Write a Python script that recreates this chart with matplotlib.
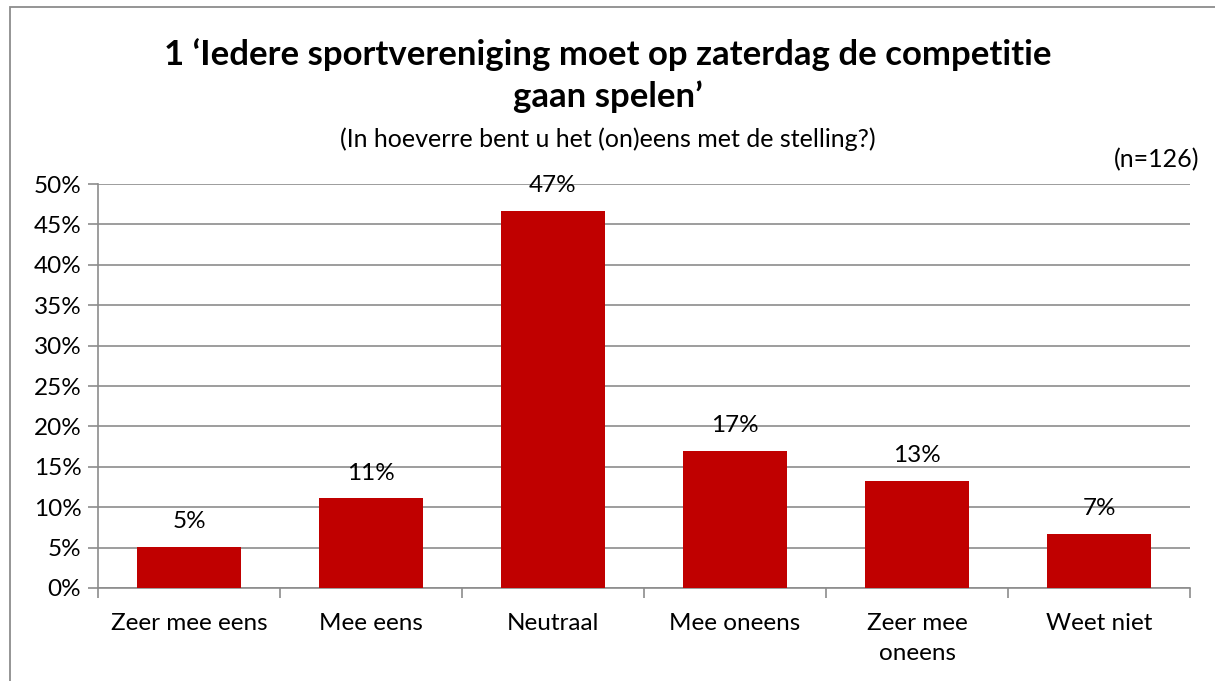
import numpy as np
import matplotlib
matplotlib.use("Agg")
import matplotlib.pyplot as plt
from matplotlib.patches import Rectangle
from matplotlib.ticker import MultipleLocator, FuncFormatter

categories = ["Zeer mee eens", "Mee eens", "Neutraal", "Mee oneens", "Zeer mee\noneens", "Weet niet"]
values = [5.1, 11.1, 46.7, 17.0, 13.3, 6.7]
labels = ["5%", "11%", "47%", "17%", "13%", "7%"]

plt.rcParams['font.family'] = ['Lato', 'DejaVu Sans']

W, H = 1215, 681
fig = plt.figure(figsize=(W / 100, H / 100), dpi=100)

# outer chart border (only left and top visible in the crop)
fig.add_artist(Rectangle((10 / W, -0.1), 1.2, 1.1 - 7 / H, transform=fig.transFigure,
                         fill=False, edgecolor='#8c8c8c', linewidth=1.3))

ax = fig.add_axes([98 / W, (H - 588) / H, (1190 - 98) / W, (588 - 184) / H])
x = np.arange(len(categories))
ax.bar(x, values, width=0.57, color='#C00000', zorder=3)

ax.set_xlim(-0.5, len(categories) - 0.5)
ax.set_ylim(0, 50)
ax.yaxis.set_major_locator(MultipleLocator(5))
ax.yaxis.set_major_formatter(FuncFormatter(lambda v, p: f"{v:.0f}%"))
ax.grid(axis='y', color='#8c8c8c', linewidth=1.2, zorder=0)

for s in ['top', 'right']:
    ax.spines[s].set_visible(False)
for s in ['left', 'bottom']:
    ax.spines[s].set_color('#8c8c8c')
    ax.spines[s].set_linewidth(1.2)

ax.set_xticks(np.arange(len(categories) + 1) - 0.5, minor=False)
ax.set_xticklabels([])
ax.set_xticks(x, minor=True)
ax.set_xticklabels(categories, minor=True, fontsize=17.5, linespacing=1.55)
ax.tick_params(axis='x', which='major', length=7, color='#8c8c8c', width=1.2)
ax.tick_params(axis='x', which='minor', length=0, pad=18)
ax.tick_params(axis='y', length=7, color='#8c8c8c', width=1.2, labelsize=17.5, pad=5)

for xi, v, lab in zip(x, values, labels):
    ax.annotate(lab, (xi, v), xytext=(0, 18), textcoords='offset points',
                ha='center', va='center', fontsize=17.5)

fig.text(0.5, 1 - 55 / H, "1 \u2018Iedere sportvereniging moet op zaterdag de competitie",
         ha='center', va='center', fontsize=25, fontweight='bold')
fig.text(0.5, 1 - 97 / H, "gaan spelen\u2019", ha='center', va='center',
         fontsize=25, fontweight='bold')
fig.text(0.5, 1 - 139 / H, "(In hoeverre bent u het (on)eens met de stelling?)",
         ha='center', va='center', fontsize=18)
fig.text(1199 / W, 1 - 160 / H, "(n=126)", ha='right', va='center', fontsize=18)

fig.savefig("out.png", dpi=100)
